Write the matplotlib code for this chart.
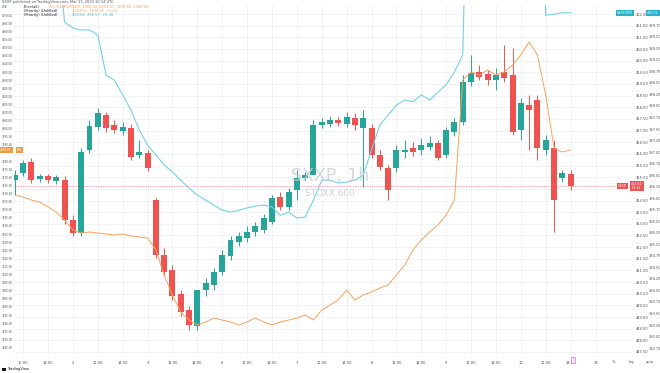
import matplotlib
matplotlib.use("Agg")
import matplotlib.pyplot as plt
import matplotlib.transforms as mtransforms
from matplotlib.patches import Rectangle
from matplotlib.ticker import MultipleLocator, FuncFormatter, FixedLocator

# hourly candles, STOXX 600
opens = [454.88, 455.18, 455.65, 454.92, 455.05, 454.84, 454.88, 453.16, 452.60, 456.16,
         457.15, 457.67, 457.24, 456.98, 457.11, 455.95, 456.04, 454.02, 451.66, 451.02,
         449.99, 449.30, 448.61, 450.16, 450.37, 450.93, 451.62, 452.22, 452.39, 452.65,
         452.73, 453.08, 454.15, 453.72, 454.45, 454.96, 455.09, 457.24, 457.28, 457.45,
         457.28, 457.54, 457.11, 457.11, 455.95, 455.39, 455.39, 456.08, 456.25, 456.16,
         456.29, 456.47, 455.95, 456.94, 457.37, 459.08, 459.51, 459.43, 459.17, 459.51,
         459.38, 457.02, 458.10, 458.31, 456.16, 456.25, 454.96, 455.14]
highs = [455.31, 455.74, 455.82, 455.14, 455.14, 455.09, 455.05, 453.38, 456.25, 457.45,
         457.97, 457.80, 457.45, 457.37, 457.28, 456.59, 456.16, 454.11, 451.96, 451.23,
         450.16, 449.47, 448.79, 450.67, 451.10, 451.87, 452.48, 452.65, 452.90, 453.08,
         453.42, 454.23, 454.36, 454.53, 455.31, 455.22, 457.45, 457.54, 457.62, 457.58,
         457.80, 457.75, 457.88, 457.28, 456.16, 455.52, 456.38, 456.59, 456.51, 456.68,
         456.77, 456.59, 457.15, 457.54, 459.38, 460.24, 459.81, 459.60, 459.68, 460.67,
         460.54, 458.40, 458.52, 458.52, 456.81, 456.59, 455.31, 455.31]
lows = [454.23, 455.05, 454.75, 454.79, 454.75, 454.71, 452.99, 452.48, 452.48, 456.04,
        457.02, 456.94, 456.89, 456.81, 455.74, 455.82, 455.26, 451.53, 450.80, 449.73,
        449.04, 448.44, 448.44, 449.90, 450.16, 450.80, 451.45, 452.05, 452.22, 452.48,
        452.60, 452.99, 453.59, 453.59, 454.02, 454.88, 455.48, 457.11, 457.15, 457.19,
        457.15, 457.02, 454.58, 455.82, 455.31, 454.02, 455.22, 455.82, 455.91, 455.95,
        456.16, 455.74, 455.82, 456.77, 457.24, 458.91, 459.17, 458.95, 458.74, 459.08,
        456.81, 456.59, 456.16, 455.74, 455.95, 452.65, 454.79, 454.45]
closes = [455.09, 455.61, 454.88, 455.05, 454.88, 455.01, 453.16, 452.60, 456.08, 457.19,
          457.75, 457.11, 457.02, 457.15, 455.86, 456.08, 455.39, 451.66, 450.93, 449.90,
          449.22, 448.66, 450.16, 450.46, 450.93, 451.66, 452.30, 452.48, 452.65, 452.90,
          453.25, 454.11, 453.72, 454.36, 454.96, 455.09, 457.24, 457.37, 457.45, 457.32,
          457.58, 457.24, 457.54, 455.95, 455.44, 454.45, 456.16, 456.16, 456.08, 456.38,
          456.47, 455.82, 457.02, 457.37, 459.08, 459.47, 459.30, 459.17, 459.38, 459.25,
          456.94, 458.18, 457.88, 456.25, 456.59, 454.02, 455.18, 454.62]

# overlay on left scale (orange)
orange_vals = [3959.07, 3957.83, 3955.98, 3954.75, 3951.66, 3948.57, 3943.63, 3937.46, 3935.61, 3936.23,
               3935.61, 3934.99, 3934.37, 3934.99, 3933.76, 3933.14, 3932.52, 3925.11, 3909.68, 3897.34,
               3886.84, 3881.90, 3878.82, 3880.67, 3883.14, 3881.90, 3880.67, 3878.82, 3880.67, 3883.14,
               3880.67, 3878.82, 3880.67, 3881.90, 3883.14, 3884.99, 3881.90, 3888.08, 3891.16, 3894.25,
               3900.42, 3894.25, 3897.34, 3899.19, 3901.66, 3903.51, 3909.68, 3915.86, 3925.11, 3931.29,
               3936.23, 3940.55, 3946.72, 3955.98, 4030.06, 4035.00, 4033.14, 4036.23, 4033.14, 4035.00,
               4039.32, 4045.49, 4053.51, 4045.49, 4020.80, 3988.08, 3985.61, 3986.84]

# overlay on outer right scale (cyan)
cyan_vals = [404.64, 404.64, 404.64, 404.64, 404.64, 401.60, 399.82, 399.69, 399.65, 399.65,
             399.54, 398.67, 398.56, 398.24, 397.91, 397.48, 397.15, 396.94, 396.72, 396.57,
             396.39, 396.22, 396.07, 395.96, 395.85, 395.74, 395.70, 395.74, 395.79, 395.83,
             395.85, 395.81, 395.63, 395.70, 395.57, 395.59, 395.96, 396.39, 396.39, 396.33,
             396.35, 396.39, 396.50, 397.05, 397.59, 397.80, 398.02, 398.13, 398.09, 398.24,
             398.13, 398.30, 398.46, 398.74, 399.11, 406.81, 406.81, 406.81, 406.81, 406.81,
             406.81, 406.81, 406.81, 406.81, 399.97, 399.99, 400.02, 400.02]

tick_pos = list(range(1, 72, 3))
tick_text = ["11:00", "14:00", "2", "11:00", "14:00", "3", "11:00", "14:00", "6",
             "11:00", "14:00", "7", "11:00", "14:00", "8", "11:00", "14:00", "9",
             "11:00", "14:00", "10", "11:00", "14:00", "13"]
orange_ticks = list(range(3865, 4071, 5))

UP = "#26a69a"
DOWN = "#ef5350"
ORANGE = "#f5a35c"
CYAN = "#74d2e4"
GRID = "#eef0f5"
TXT = "#50535e"
FS = 2.6

W, H = 660, 373


def fx(px):
    return px / W


def fy(py):
    return 1 - py / H


def skip_near(value, gap):
    # blank a scale label where a value tag sits over it
    return FuncFormatter(lambda v, pos: "" if abs(v - value) < gap else "%.2f" % v)


fig = plt.figure(figsize=(6.6, 3.73), dpi=100)
fig.patch.set_facecolor("white")

ax = fig.add_axes([fx(14), fy(355), fx(632) - fx(14), fy(5) - fy(355)])
ax.set_xlim(-0.1, 74.4)
ax.set_ylim(447.37, 462.39)

x = list(range(len(opens)))
colors = [UP if c >= o else DOWN for o, c in zip(opens, closes)]
bottoms = [min(o, c) for o, c in zip(opens, closes)]
heights = [max(abs(c - o), 0.03) for o, c in zip(opens, closes)]
ax.vlines(x, lows, highs, colors=colors, lw=0.7, zorder=3)
ax.bar(x, heights, bottom=bottoms, width=0.72, color=colors, lw=0, zorder=3)

# current price line
ax.axhline(closes[-1], color=DOWN, lw=0.5, ls=(0, (1, 1.5)), zorder=2)

# orange overlay, left scale
ax_or = ax.twinx()
ax_or.set_ylim(3860.31, 4076.36)
ax_or.plot(x, orange_vals, color=ORANGE, lw=0.7)

# cyan overlay, outer right scale
ax_cy = ax.twinx()
ax_cy.set_ylim(392.60, 400.19)
ax_cy.plot(x, cyan_vals, color=CYAN, lw=0.8)

# twinx moves the host ticks to the left, so set sides afterwards
ax.yaxis.tick_right()
ax.yaxis.set_major_locator(MultipleLocator(0.5))
ax.yaxis.set_major_formatter(skip_near(closes[-1], 0.3))
ax.xaxis.set_major_locator(FixedLocator(tick_pos))
ax.set_xticklabels(tick_text)
ax.tick_params(axis="both", length=0, labelsize=FS, colors=TXT)
ax.tick_params(axis="y", pad=3)
ax.tick_params(axis="x", pad=4)
ax.grid(True, color=GRID, lw=0.6, zorder=0)
for s in ax.spines.values():
    s.set_visible(False)

ax_or.yaxis.tick_left()
ax_or.set_yticks(orange_ticks)
ax_or.yaxis.set_major_formatter(skip_near(orange_vals[-1], 3.0))
ax_or.tick_params(axis="y", length=0, labelsize=2.0, colors=TXT, pad=0.8)

ax_cy.yaxis.tick_right()
ax_cy.yaxis.set_major_locator(MultipleLocator(0.25))
ax_cy.yaxis.set_major_formatter(skip_near(cyan_vals[-1], 0.15))
ax_cy.tick_params(axis="y", length=0, labelsize=FS, colors=TXT, pad=12)
for a in (ax_or, ax_cy):
    for s in a.spines.values():
        s.set_visible(False)

# value tags on the scales
tr_p = mtransforms.blended_transform_factory(fig.transFigure, ax.transData)
tr_o = mtransforms.blended_transform_factory(fig.transFigure, ax_or.transData)
tr_c = mtransforms.blended_transform_factory(fig.transFigure, ax_cy.transData)


def tag(tr, x0, x1, yv, color, label, size=FS * 0.9):
    ax.text(fx((x0 + x1) / 2), yv, label, transform=tr, ha="center", va="center",
            fontsize=size, color="white", clip_on=False, zorder=10,
            bbox=dict(boxstyle="square,pad=0.35", fc=color, ec="none"))


tag(tr_p, 619, 626, closes[-1], DOWN, "SXXP")
tag(tr_p, 630, 644, closes[-1], DOWN, "%.2f\n00:14" % closes[-1])
tag(tr_o, 0, 12, orange_vals[-1], "#f29a3f", "%.2f" % orange_vals[-1], 2.0)
tag(tr_o, 14, 25, orange_vals[-1], "#f29a3f", "SPX", 2.0)
tag(tr_c, 619, 631, cyan_vals[-1], "#26b3c9", "SXXP/SPX")
tag(tr_c, 648, 658, cyan_vals[-1], "#26b3c9", "%.2f" % cyan_vals[-1])

# watermark
fig.text(fx(330), fy(176), "SXXP, 1h", ha="center", va="center", fontsize=12.5,
         color="#c9ccd3", alpha=0.8)
fig.text(fx(330), fy(193), "STOXX 600", ha="center", va="center", fontsize=6.5,
         color="#c9ccd3", alpha=0.9)

# header and legend
fig.text(fx(2), fy(2.5), "SXXP published on TradingView.com, Mar 13, 2023 10:14 UTC",
         fontsize=FS, color=TXT, va="center")
fig.text(fx(2), fy(7), "USD", fontsize=2.0, color=TXT, va="center")
rows = [
    ("Price(all)", "TVC:SXXP/SP:SPX  3986.84  4053.51  3878.82  3986.84", ORANGE),
    ("(Priority) (Unfilled)", "4053.51  3878.82  +1.23", ORANGE),
    ("(Priority) (Unfilled)", "400.02  395.57  +0.38", "#3bbdd2"),
]
for k, (lab, val, col) in enumerate(rows):
    yy = fy(7 + 4.2 * k)
    fig.text(fx(24), yy, lab, fontsize=FS, color="#131722", va="center")
    fig.text(fx(24 + 2.2 * len(lab) + 2), yy, val, fontsize=FS, color=col, va="center")

# bottom-left logo, bottom-right controls
fig.add_artist(Rectangle((fx(2), fy(370.5)), fx(4), 2.5 / H, transform=fig.transFigure,
                         color="#131722", lw=0))
fig.text(fx(7), fy(369), "TradingView", fontsize=FS, color="#131722", va="center")
for px, s in [(614, "%"), (631, "log"), (650, "auto")]:
    fig.text(fx(px), fy(362), s, fontsize=FS, color=TXT, ha="center", va="center")

# event marker
fig.add_artist(Rectangle((fx(571), fy(363)), fx(4), 6 / H, transform=fig.transFigure,
                         fc="#fbe7f6", ec="#d879c9", lw=0.5))

fig.savefig("out.png", dpi=100, facecolor="white")
